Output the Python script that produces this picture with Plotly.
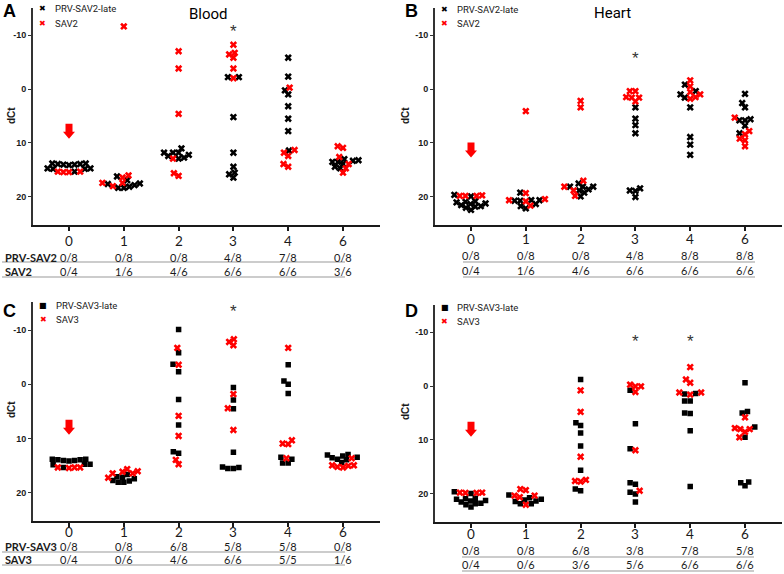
import math
import plotly.graph_objects as go

# Days post infection (categories) and detection tables
days = ['0', '1', '2', '3', '4', '6']

# dCt values per day
blood_prv_sav2 = [
    [13.8, 13.8, 13.9, 13.9, 14.0, 14.0, 14.1, 14.7, 14.7, 14.8, 14.8, 15.3],
    [16.2, 16.9, 17.5, 17.6, 17.8, 18.1, 18.3, 18.3],
    [11.0, 11.8, 11.8, 11.8, 12.2, 12.4, 12.7, 12.9],
    [-2.2, -2.2, 5.2, 11.8, 14.4, 15.5, 15.8, 16.4],
    [-5.8, -2.3, 0.25, 1.0, 3.2, 5.5, 7.8, 11.4],
    [13.0, 13.2, 13.3, 13.5, 13.5, 13.9, 14.4, 14.7],
]
blood_sav2 = [
    [15.3, 15.3, 15.4, 15.4],
    [-11.6, 16.0, 16.4, 17.4, 17.4, 18.0],
    [-7.0, -3.8, 4.6, 12.9, 15.6, 16.1],
    [-8.2, -6.7, -6.4, -5.8, -3.8, -2.0],
    [-0.25, 11.3, 11.8, 12.4, 13.9, 14.4],
    [10.6, 10.9, 12.6, 13.9, 14.7, 15.5],
]
heart_prv_sav2 = [
    [19.6, 19.9, 20.8, 20.9, 21.0, 21.2, 21.3, 21.5, 21.7, 21.8, 22.0, 22.4],
    [19.2, 20.6, 20.7, 20.7, 20.6, 21.3, 21.7, 22.1],
    [17.5, 18.1, 18.1, 18.1, 18.6, 18.8, 19.2, 19.9],
    [3.4, 5.5, 6.7, 8.2, 18.4, 18.8, 18.9, 20.0],
    [-0.8, 0.4, 1.0, 1.6, 3.4, 8.9, 10.3, 12.2],
    [0.9, 2.6, 3.4, 5.6, 5.8, 5.8, 6.8, 8.2],
]
heart_sav2 = [
    [19.8, 19.7, 19.8, 19.8],
    [4.1, 19.3, 20.4, 20.6, 20.8, 21.6],
    [2.2, 3.4, 17.0, 18.1, 18.8, 19.8],
    [0.4, 0.4, 1.5, 1.6, 1.6, 2.3],
    [-1.6, -0.5, 0.55, 1.0, 1.5, 1.8],
    [5.3, 7.8, 8.4, 9.2, 9.5, 10.6],
]
blood_prv_sav3 = [
    [13.8, 13.8, 13.9, 13.9, 14.0, 14.0, 14.1, 14.7, 14.7, 14.8, 15.3],
    [16.6, 17.0, 17.1, 17.4, 17.7, 17.8, 18.0, 18.0],
    [-10.1, -5.8, -3.7, -2.3, 2.8, 7.5, 12.4, 12.7],
    [0.6, 2.9, 4.5, 12.5, 15.2, 15.3, 15.5, 15.5],
    [-3.6, -0.6, 0.0, 1.7, 13.4, 13.8, 14.5, 14.5],
    [12.9, 13.0, 13.2, 13.4, 13.5, 13.8, 13.9, 14.4],
]
blood_sav3 = [
    [15.3, 15.3, 15.4, 15.3],
    [15.6, 16.0, 16.1, 16.4, 16.4, 17.2],
    [-6.7, -3.6, 5.8, 9.5, 13.9, 14.7],
    [-8.3, -7.8, -7.2, 1.8, 4.4, 8.4],
    [-6.7, 10.3, 10.9, 11.0, 13.6],
    [13.6, 14.9, 14.9, 15.0, 15.2, 15.3],
]
heart_prv_sav3 = [
    [19.6, 19.9, 20.8, 20.9, 21.0, 21.2, 21.3, 21.5, 21.7, 21.8, 22.0, 22.4],
    [20.2, 20.7, 21.0, 21.1, 21.3, 21.4, 21.8, 21.8],
    [-1.2, 6.8, 7.3, 8.7, 11.1, 15.6, 19.1, 19.4],
    [0.8, 7.0, 11.6, 17.9, 18.2, 19.7, 20.0, 21.5],
    [1.4, 1.5, 2.8, 2.8, 5.0, 5.1, 8.3, 18.6],
    [-0.6, 4.7, 5.0, 7.6, 9.5, 17.8, 17.9, 18.5],
]
heart_sav3 = [
    [19.75, 19.75, 19.8, 19.8],
    [19.1, 19.3, 20.3, 20.3, 20.6, 22.0],
    [0.8, 4.8, 13.1, 17.4, 17.6, 17.7],
    [-0.25, 0.06, 0.06, 1.1, 11.9, 19.4],
    [-3.5, -1.2, -0.6, 1.2, 1.2, 1.6],
    [5.8, 7.8, 8.0, 8.0, 8.5, 9.5],
]

# positive / tested
blood_sav2_table = [['0/8', '0/8', '0/8', '4/8', '7/8', '0/8'], ['0/4', '1/6', '4/6', '6/6', '6/6', '3/6']]
heart_sav2_table = [['0/8', '0/8', '0/8', '4/8', '8/8', '8/8'], ['0/4', '1/6', '4/6', '6/6', '6/6', '6/6']]
blood_sav3_table = [['0/8', '0/8', '6/8', '5/8', '5/8', '0/8'], ['0/4', '0/6', '4/6', '6/6', '5/5', '1/6']]
heart_sav3_table = [['0/8', '0/8', '6/8', '3/8', '7/8', '5/8'], ['0/4', '0/6', '3/6', '5/6', '6/6', '6/6']]

W, H = 784, 574
RED = '#FF0000'
INK = '#1a1a1a'
YRANGE = [25.1, -15.1]
XRANGE = [-0.657, 5.675]
PX_PER_CAT = 54.8
PX_PER_UNIT = 5.4


def px(x):
    return x / W


def py(y):
    return 1 - y / H


def swarm(groups, gx=5.6, gy=5.0):
    """beeswarm (largest dCt placed first, so rows curve upward at the ends);
    returns x offsets in category units"""
    flat = [(v, g, k) for g, vals in enumerate(groups) for k, v in enumerate(vals)]
    order = sorted(range(len(flat)), key=lambda i: -flat[i][0])
    placed = []
    offs = [[0.0] * len(vals) for vals in groups]
    for i in order:
        v, g, k = flat[i]
        y = v * PX_PER_UNIT
        cands, spans = [0.0], []
        for xj, yj in placed:
            dy = abs(y - yj)
            if dy < gy:
                dx = gx * math.sqrt(1 - (dy / gy) ** 2)
                spans.append((xj - dx, xj + dx))
                cands += [xj - dx, xj + dx]
        ok = [c for c in cands if all(not (a + 1e-6 < c < b - 1e-6) for a, b in spans)]
        best = min(ok, key=lambda c: (abs(c), c))
        placed.append((best, y))
        offs[g][k] = best / PX_PER_CAT
    return offs


panels = [
    # (suffix, black data, red data, black symbol, domain x, domain y)
    ('', blood_prv_sav2, blood_sav2, 'x', [px(33), px(380)], [py(224.5), py(7.5)]),
    ('2', heart_prv_sav2, heart_sav2, 'x', [px(435), px(782)], [py(224.5), py(7.5)]),
    ('3', blood_prv_sav3, blood_sav3, 'square', [px(33), px(380)], [py(520.7), py(302.3)]),
    ('4', heart_prv_sav3, heart_sav3, 'square', [px(435), px(782)], [py(521.5), py(304.5)]),
]

fig = go.Figure()
layout = dict(width=W, height=H, margin=dict(l=0, r=0, t=0, b=0),
              paper_bgcolor='white', plot_bgcolor='white', showlegend=False)
annotations = []
shapes = []

for suf, black, red, bsym, dx, dy in panels:
    xa, ya = 'x' + suf, 'y' + suf
    bx, by, rx, ry = [], [], [], []
    for d in range(len(days)):
        offs = swarm([black[d], red[d]])
        for v, o in zip(black[d], offs[0]):
            bx.append(d + o)
            by.append(v)
        for v, o in zip(red[d], offs[1]):
            rx.append(d + o)
            ry.append(v)
    fig.add_trace(go.Scatter(x=bx, y=by, mode='markers', xaxis=xa, yaxis=ya, hoverinfo='y',
                             marker=dict(symbol=bsym, size=6.5 if bsym == 'x' else 5.5,
                                         color='black', line=dict(width=0))))
    fig.add_trace(go.Scatter(x=rx, y=ry, mode='markers', xaxis=xa, yaxis=ya, hoverinfo='y',
                             marker=dict(symbol='x', size=6.5, color=RED, line=dict(width=0))))
    layout['xaxis' + suf] = dict(domain=dx, anchor=ya, range=XRANGE, tickmode='array',
                                 tickvals=list(range(len(days))), showticklabels=False,
                                 showgrid=False, zeroline=False, showline=True, linecolor=INK,
                                 linewidth=2, ticks='outside', ticklen=4, tickwidth=1.5,
                                 tickcolor=INK)
    layout['yaxis' + suf] = dict(domain=dy, anchor=xa, range=YRANGE, tickvals=[-10, 0, 10, 20],
                                 ticktext=['-10', '0', '10', '20'],
                                 showgrid=False, zeroline=False, showline=True, linecolor='#333',
                                 linewidth=2, ticks='outside', ticklen=3, tickwidth=1.2,
                                 tickcolor='#333',
                                 tickfont=dict(family='Liberation Sans', size=9, color=INK,
                                               weight='bold'))

# red block arrows pointing at the day 0 controls
arrow = 'M0,0 L-6,7 L-3.5,7 L-3.5,15 L3.5,15 L3.5,7 L6,7 Z'
for suf, tip in [('', 9.2), ('2', 12.7), ('3', 9.3), ('4', 9.4)]:
    shapes.append(dict(type='path', xref='x' + suf, yref='y' + suf, xsizemode='pixel',
                       ysizemode='pixel', xanchor=0, yanchor=tip, path=arrow,
                       fillcolor=RED, line=dict(width=0)))

# significance stars
for suf, d, v in [('', 3, -11.6), ('2', 3, -6.5), ('3', 3, -14.4), ('4', 3, -9.2), ('4', 4, -9.2)]:
    annotations.append(dict(x=d, y=v, xref='x' + suf, yref='y' + suf, text='*', showarrow=False,
                            xanchor='center', yanchor='middle', yshift=-5,
                            font=dict(family='Liberation Sans', size=17, color='#333')))

# panel letters, titles, y titles
for txt, x, y in [('A', 9, 11), ('B', 411, 11), ('C', 9, 311), ('D', 411, 311)]:
    annotations.append(dict(x=px(x), y=py(y), xref='paper', yref='paper', text='<b>%s</b>' % txt,
                            xanchor='center', yanchor='middle', showarrow=False,
                            font=dict(family='Liberation Sans', size=18, color='black')))
for txt, x, y in [('Blood', 208, 14), ('Heart', 612, 13)]:
    annotations.append(dict(x=px(x), y=py(y), xref='paper', yref='paper', text=txt,
                            xanchor='center', yanchor='middle', showarrow=False,
                            font=dict(family='Roboto', size=15, color='black')))
for x, y in [(11, 116), (405, 116), (11, 410), (405, 412)]:
    annotations.append(dict(x=px(x), y=py(y), xref='paper', yref='paper', text='<b>dCt</b>',
                            xanchor='center', yanchor='middle', textangle=-90, showarrow=False,
                            font=dict(family='Liberation Sans', size=10, color=INK)))

# legends drawn in the upper left corner of every panel
legends = [
    (42, 53, (9, 23), 'x', ('PRV-SAV2-late', 'SAV2')),
    (445, 455, (10, 23), 'x', ('PRV-SAV2-late', 'SAV2')),
    (43, 54, (306, 319), 'square', ('PRV-SAV3-late', 'SAV3')),
    (445, 455, (307, 321), 'square', ('PRV-SAV3-late', 'SAV3')),
]
for mx, tx, ys, bsym, names in legends:
    for r, (col, sym) in enumerate([('black', bsym), (RED, 'x')]):
        glyph = '\u2716' if sym == 'x' else '\u25A0'
        annotations.append(dict(x=px(mx), y=py(ys[r]), xref='paper', yref='paper', text=glyph,
                                xanchor='center', yanchor='middle', showarrow=False,
                                font=dict(family='DejaVu Sans', size=8, color=col)))
        annotations.append(dict(x=px(tx), y=py(ys[r]), xref='paper', yref='paper', text=names[r],
                                xanchor='left', yanchor='middle', showarrow=False,
                                font=dict(family='Roboto', size=9.5, color=INK)))

# x tick labels and detection tables under the x axes
tables = [
    ('', blood_sav2_table, ('PRV-SAV2', 'SAV2'), 241.5, (257, 271.5), (262, 277), (2, 345)),
    ('2', heart_sav2_table, None, 239, (255, 270), (262, 277), (463, 755)),
    ('3', blood_sav3_table, ('PRV-SAV3', 'SAV3'), 531.5, (546, 559), (552, 565), (2, 345)),
    ('4', heart_sav3_table, None, 533.5, (550.5, 564.5), (557, 571), (462, 754)),
]
for suf, tab, labels, tick_y, rows, lines, span in tables:
    for d in range(len(days)):
        annotations.append(dict(x=d, y=py(tick_y), xref='x' + suf, yref='paper', text=days[d],
                                xanchor='center', yanchor='middle', showarrow=False,
                                font=dict(family='Lato', size=13.5, color=INK)))
    for r in range(2):
        for d in range(len(days)):
            annotations.append(dict(x=d, y=py(rows[r]), xref='x' + suf, yref='paper',
                                    text=tab[r][d], xanchor='center', yanchor='middle',
                                    showarrow=False, font=dict(family='Lato', size=11, color=INK)))
        if labels:
            annotations.append(dict(x=px(span[0] + 1), y=py(rows[r]), xref='paper', yref='paper',
                                    xanchor='left', yanchor='middle', text='<b>%s</b>' % labels[r],
                                    showarrow=False, font=dict(family='Lato', size=11, color=INK)))
        shapes.append(dict(type='line', xref='paper', yref='paper', x0=px(span[0]), x1=px(span[1]),
                           y0=py(lines[r]), y1=py(lines[r]), line=dict(color='#999', width=1.2)))

layout['annotations'] = annotations
layout['shapes'] = shapes
fig.update_layout(**layout)

# drop the browser's default page margin so the 784x574 figure fills the window
fig.write_html('out.html', config={'displayModeBar': False},
               post_script="document.body.style.margin='0';")
